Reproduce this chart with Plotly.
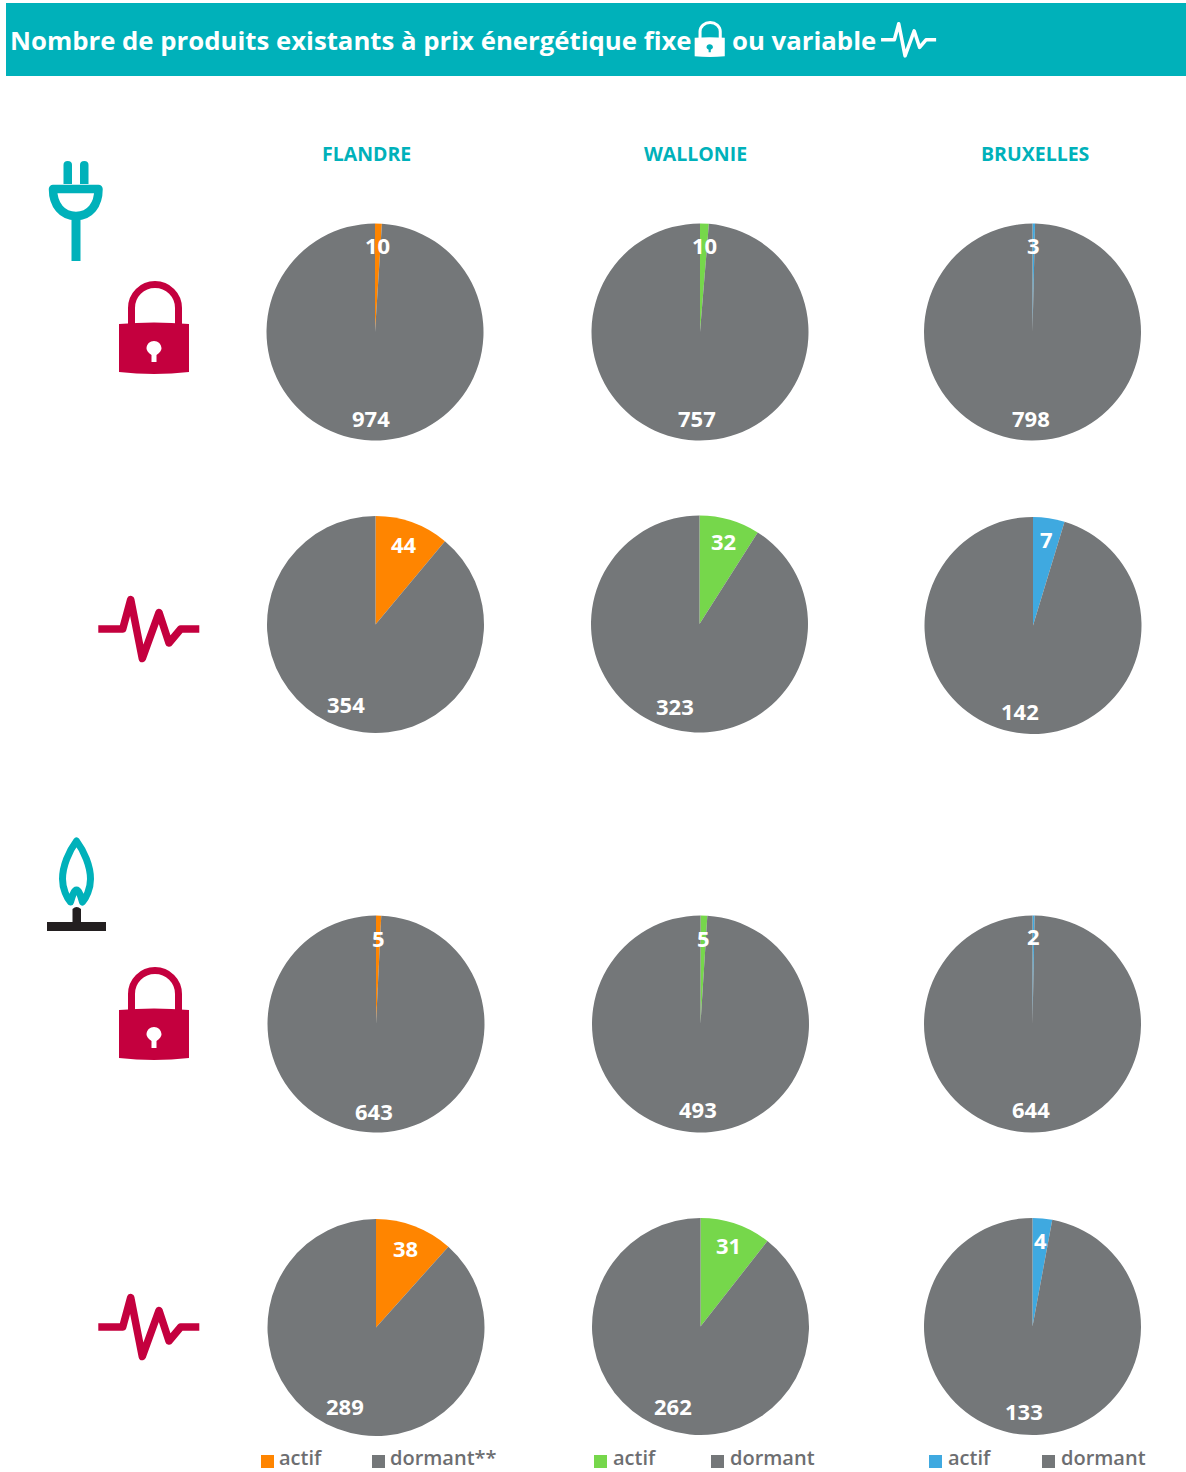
import plotly.graph_objects as go

W, H = 1186, 1472

# ---------- data ----------
regions = ["FLANDRE", "WALLONIE", "BRUXELLES"]
slice_names = ["actif", "dormant"]
elec_fixe_actif = [10, 10, 3]
elec_fixe_dormant = [974, 757, 798]
elec_var_actif = [44, 32, 7]
elec_var_dormant = [354, 323, 142]
gaz_fixe_actif = [5, 5, 2]
gaz_fixe_dormant = [643, 493, 644]
gaz_var_actif = [38, 31, 4]
gaz_var_dormant = [289, 262, 133]
legend_labels = [["actif", "dormant**"], ["actif", "dormant"], ["actif", "dormant"]]

# ---------- style / layout ----------
TEAL = "#00B1BA"
CRIMSON = "#C4003E"
GREY = "#747779"
REGION_COLORS = ["#FF8500", "#76D74B", "#3FA9E0"]
FONT = "Open Sans"
R = 108.5

rows = [
    (elec_fixe_actif, elec_fixe_dormant,
     [(375, 332), (700, 332), (1032.5, 332)],
     [(377, 245), (704, 245), (1033, 245)], [(371, 418), (697, 418), (1031, 418)]),
    (elec_var_actif, elec_var_dormant,
     [(375.5, 624.5), (699.5, 624), (1033, 625.5)],
     [(404, 544), (723, 541), (1046, 539)], [(346, 704), (675, 706), (1020, 711)]),
    (gaz_fixe_actif, gaz_fixe_dormant,
     [(376, 1024), (700.5, 1024), (1032.5, 1024)],
     [(378, 938), (703, 938), (1033, 936)], [(374, 1111), (698, 1109), (1031, 1109)]),
    (gaz_var_actif, gaz_var_dormant,
     [(376, 1327.5), (700.5, 1326.5), (1032.5, 1326.5)],
     [(405, 1248), (728, 1245), (1040, 1240)], [(345, 1406), (673, 1406), (1024, 1411)]),
]
header_x = [366.5, 695.5, 1035]
legend_pos = [[(261, 278), (372, 389)], [(594, 612), (711, 729)], [(929, 947), (1042, 1060)]]

fig = go.Figure()
annotations = []
shapes = []


def label(x, y, text, size, color, anchor="center", weight=700):
    annotations.append(dict(
        x=x, y=y, xref="x", yref="y", text=text, showarrow=False,
        xanchor=anchor, yanchor="middle", borderpad=0,
        font=dict(family=FONT, size=size, color=color, weight=weight)))


# ---------- pies ----------
for actif, dormant, centres, pos_a, pos_d in rows:
    for i in range(3):
        cx, cy = centres[i]
        fig.add_trace(go.Pie(
            labels=slice_names, values=[actif[i], dormant[i]],
            sort=False, direction="clockwise", rotation=0,
            marker=dict(colors=[REGION_COLORS[i], GREY], line=dict(width=0)),
            textinfo="none", hoverinfo="label+value", showlegend=False,
            domain=dict(x=[(cx - R) / W, (cx + R) / W],
                        y=[1 - (cy + R) / H, 1 - (cy - R) / H])))
        label(pos_a[i][0], pos_a[i][1], str(actif[i]), 22, "white")
        label(pos_d[i][0], pos_d[i][1], str(dormant[i]), 22, "white")


# ---------- icons (decoration, pixel space) ----------
def shp(path, fill=None, line=None, width=0):
    d = dict(type="path", path=path, xref="x", yref="y", layer="above",
             line=dict(width=width, color=line if line else "rgba(0,0,0,0)"))
    if fill:
        d["fillcolor"] = fill
    shapes.append(d)


def tf(pts, sx, sy, dx, dy):
    return [(x * sx + dx, y * sy + dy) for x, y in pts]


def poly(pts):
    return "M" + " L".join(f"{x:.2f},{y:.2f}" for x, y in pts)


def lock(sx, sy, dx, dy, color, hole):
    def P(x, y):
        return f"{x * sx + dx:.2f},{y * sy + dy:.2f}"
    shp(f"M{P(131.5, 326)} L{P(131.5, 308)} C{P(131.5, 295)} {P(142, 284.5)} {P(155, 284.5)} "
        f"C{P(168, 284.5)} {P(178.5, 295)} {P(178.5, 308)} L{P(178.5, 326)}",
        line=color, width=7 * sx)
    shp(f"M{P(119, 324)} Q{P(154, 321)} {P(189, 324)} L{P(189, 372)} Q{P(154, 376)} {P(119, 372)} Z", fill=color)
    shp(f"M{P(151.5, 355)} C{P(148, 353)} {P(146.5, 350)} {P(146.5, 348.5)} C{P(146.5, 344)} {P(150, 341)} {P(154, 341)} "
        f"C{P(158, 341)} {P(161.5, 344)} {P(161.5, 348.5)} C{P(161.5, 350)} {P(160, 353)} {P(156.5, 355)} "
        f"L{P(156.5, 362)} L{P(151.5, 362)} Z", fill=hole)


pulse_pts = [(98.3, 629), (122.7, 629), (130.7, 599.5), (142.3, 658.5),
             (159, 612.5), (169, 643), (180.7, 629), (199.3, 629)]


def pulse(sx, sy, dx, dy, color, width):
    shapes.append(dict(type="path", path=poly(tf(pulse_pts, sx, sy, dx, dy)),
                       xref="x", yref="y", layer="above",
                       line=dict(color=color, width=width)))


# header band
shapes.append(dict(type="rect", x0=6, x1=1186, y0=3, y1=76, xref="x", yref="y",
                   layer="below", fillcolor=TEAL, line=dict(width=0)))
label(9, 40, "Nombre de produits existants à prix énergétique fixe", 25.75, "white", "left")
label(731, 40, "ou variable", 25.75, "white", "left")
lock(0.43, 0.385, 643.5, -87, "white", TEAL)
pulse(0.545, 0.545, 827.5, -303, "white", 3.5)

# region headers
for name, x in zip(regions, header_x):
    label(x, 153, name, 19.5, TEAL)

# plug
shp("M63.5,184 L63.5,165 Q63.5,161 67.7,161 Q72,161 72,165 L72,184 Z", fill=TEAL)
shp("M80,184 L80,165 Q80,161 84.3,161 Q88.5,161 88.5,165 L88.5,184 Z", fill=TEAL)
shp("M53,189 L98.5,189 C98.5,205 90,216 76,216 C62,216 53,205 53,189 Z", line=TEAL, width=8.5)
shp("M71.5,216 L80.5,216 L80.5,261 L71.5,261 Z", fill=TEAL)

# flame and burner
shp("M76.5,841 C84,851 90.5,866 90.5,879 C90.5,889 86,898 82.5,902 C81,897 79,890 76.5,890 "
    "C74,890 72,897 70.5,902 C67,898 62.5,889 62.5,879 C62.5,866 69,851 76.5,841 Z",
    line=TEAL, width=7)
shp("M47,922 L106,922 L106,931 L47,931 Z", fill="#231F20")
shp("M72.5,909 Q76.5,905 81,909 L81,923 L72.5,923 Z", fill="#231F20")

lock(1, 1, 0, 0, CRIMSON, "white")
lock(1, 1, 0, 686, CRIMSON, "white")
pulse(1, 1, 0, 0, CRIMSON, 7.5)
pulse(1, 1, 0, 698, CRIMSON, 7.5)

# legends
for i, ((sq_a, tx_a), (sq_d, tx_d)) in enumerate(legend_pos):
    shapes.append(dict(type="rect", x0=sq_a, x1=sq_a + 13, y0=1455, y1=1468, xref="x", yref="y",
                       fillcolor=REGION_COLORS[i], line=dict(width=0)))
    shapes.append(dict(type="rect", x0=sq_d, x1=sq_d + 13, y0=1455, y1=1468, xref="x", yref="y",
                       fillcolor=GREY, line=dict(width=0)))
    label(tx_a, 1457.5, legend_labels[i][0], 20, "#6D6E71", "left", 600)
    label(tx_d, 1457.5, legend_labels[i][1], 20, "#6D6E71", "left", 600)

fig.update_layout(
    width=W, height=H, margin=dict(l=0, r=0, t=0, b=0),
    paper_bgcolor="white", plot_bgcolor="rgba(0,0,0,0)",
    xaxis=dict(range=[0, W], visible=False, fixedrange=True, domain=[0, 1]),
    yaxis=dict(range=[H, 0], visible=False, fixedrange=True, domain=[0, 1]),
    shapes=shapes, annotations=annotations, showlegend=False,
)
# an invisible helper trace keeps the pixel-space axes alive next to the pies
fig.add_trace(go.Scatter(x=[0], y=[0], mode="markers", marker=dict(opacity=0),
                         hoverinfo="skip", showlegend=False))

fig.write_html("out.html", config=dict(displayModeBar=False),
               post_script=("document.body.style.margin='0';"
                            "var s=document.createElement('style');"
                            "s.textContent='.shapelayer path{stroke-linejoin:round !important}';"
                            "document.head.appendChild(s);"
                            "window.dispatchEvent(new Event('resize'));"))
